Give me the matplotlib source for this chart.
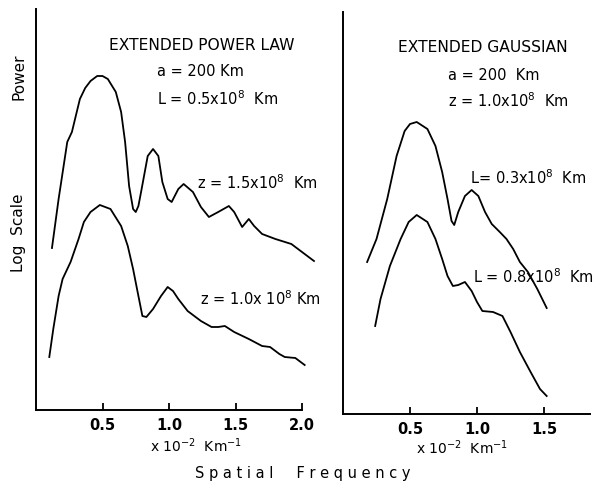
import matplotlib
matplotlib.use("Agg")
import matplotlib.pyplot as plt

plt.rcParams["font.family"] = "DejaVu Sans"
plt.rcParams["mathtext.default"] = "regular"

# Extended power law, z = 1.5e8 km (upper curve)
pl_z15_x = [0.12, 0.17, 0.235, 0.27, 0.33, 0.37, 0.41, 0.46, 0.50, 0.54, 0.60, 0.64,
            0.67, 0.70, 0.73, 0.75, 0.77, 0.79, 0.84, 0.88, 0.92, 0.95, 0.99, 1.02,
            1.07, 1.11, 1.18, 1.24, 1.30, 1.37, 1.45, 1.49, 1.55, 1.60, 1.64, 1.70,
            1.80, 1.92, 2.09]
pl_z15_y = [162, 211, 268, 278, 311, 322, 329, 334, 334, 331, 318, 298,
            268, 224, 201, 198, 204, 218, 254, 261, 254, 228, 211, 208,
            221, 226, 218, 203, 193, 198, 204, 198, 183, 191, 184, 176,
            171, 166, 149]

# Extended power law, z = 1.0e8 km (lower curve)
pl_z10_x = [0.10, 0.13, 0.17, 0.20, 0.26, 0.32, 0.36, 0.41, 0.48, 0.56, 0.64, 0.69,
            0.73, 0.77, 0.80, 0.83, 0.88, 0.94, 0.99, 1.03, 1.07, 1.14, 1.24, 1.32,
            1.37, 1.42, 1.49, 1.60, 1.70, 1.76, 1.83, 1.87, 1.95, 2.02]
pl_z10_y = [53, 81, 114, 131, 148, 171, 188, 198, 205, 201, 184, 164,
            141, 114, 94, 93, 101, 114, 123, 119, 111, 99, 89, 83,
            83, 84, 78, 71, 64, 63, 56, 53, 52, 45]

# Extended gaussian, L = 0.3e8 km (upper curve)
ga_l03_x = [0.18, 0.25, 0.33, 0.40, 0.46, 0.50, 0.55, 0.63, 0.69, 0.74, 0.78, 0.81,
            0.83, 0.86, 0.91, 0.96, 1.01, 1.06, 1.11, 1.17, 1.22, 1.27, 1.32, 1.38,
            1.45, 1.52]
ga_l03_y = [152, 175, 215, 258, 283, 290, 292, 285, 268, 242, 215, 193,
            189, 202, 218, 224, 218, 202, 190, 182, 175, 165, 152, 142,
            125, 106]

# Extended gaussian, L = 0.8e8 km (lower curve)
ga_l08_x = [0.24, 0.28, 0.35, 0.43, 0.49, 0.55, 0.63, 0.69, 0.74, 0.78, 0.82, 0.86,
            0.91, 0.96, 1.00, 1.04, 1.12, 1.19, 1.25, 1.32, 1.40, 1.47, 1.52]
ga_l08_y = [88, 115, 148, 175, 192, 199, 192, 175, 155, 138, 128, 129,
            132, 123, 112, 103, 102, 98, 82, 62, 42, 25, 18]

left_ticks = [0.5, 1.0, 1.5, 2.0]
right_ticks = [0.5, 1.0, 1.5]

W, H = 597, 485
fig = plt.figure(figsize=(W / 100, H / 100), dpi=100)


def px(x, y):
    # pixel position (from top-left) to figure fraction
    return x / W, 1 - y / H


def style_axis(ax, ticks, xmax_spine):
    for s in ["top", "right"]:
        ax.spines[s].set_visible(False)
    for s in ["left", "bottom"]:
        ax.spines[s].set_linewidth(1.4)
    ax.spines["bottom"].set_bounds(0, xmax_spine)
    ax.set_yticks([])
    ax.set_xticks(ticks)
    ax.set_xticklabels([f"{t:.1f}" for t in ticks], fontsize=10.5, fontweight="bold")
    ax.tick_params(axis="x", direction="in", length=5, width=1.3, pad=5)


ax1 = fig.add_axes([36 / W, 1 - 411 / H, 266 / W, 401 / H])
ax1.plot(pl_z15_x, pl_z15_y, color="black", lw=1.3, clip_on=False)
ax1.plot(pl_z10_x, pl_z10_y, color="black", lw=1.3, clip_on=False)
ax1.set_xlim(0, 2.0)
ax1.set_ylim(0, 401)
style_axis(ax1, left_ticks, 2.0)

ax2 = fig.add_axes([343 / W, 1 - 415 / H, 247 / W, 402 / H])
ax2.plot(ga_l03_x, ga_l03_y, color="black", lw=1.3, clip_on=False)
ax2.plot(ga_l08_x, ga_l08_y, color="black", lw=1.3, clip_on=False)
ax2.set_xlim(0, 247 / 134)
ax2.set_ylim(0, 402)
style_axis(ax2, right_ticks, 247 / 134)

kw = dict(fontsize=10.5, color="black", va="center")

# left panel texts
fig.text(*px(202, 45), "EXTENDED POWER LAW", ha="center", fontsize=11.2, color="black", va="center")
fig.text(*px(157, 72), "a = 200 Km", ha="left", **kw)
fig.text(*px(157, 99), "L = 0.5x10$^{8}$  Km", ha="left", **kw)
fig.text(*px(197, 183), "z = 1.5x10$^{8}$  Km", ha="left", **kw)
fig.text(*px(200, 299), "z = 1.0x 10$^{8}$ Km", ha="left", **kw)

# right panel texts
fig.text(*px(483, 47), "EXTENDED GAUSSIAN", ha="center", fontsize=11.2, color="black", va="center")
fig.text(*px(448, 75), "a = 200  Km", ha="left", **kw)
fig.text(*px(448, 101), "z = 1.0x10$^{8}$  Km", ha="left", **kw)
fig.text(*px(470, 178), "L= 0.3x10$^{8}$  Km", ha="left", **kw)
fig.text(*px(473, 277), "L = 0.8x10$^{8}$  Km", ha="left", **kw)

# axis labels
fig.text(*px(196, 446), "x 10$^{-2}$  Km$^{-1}$", ha="center", fontsize=10, va="center")
fig.text(*px(462, 448), "x 10$^{-2}$  Km$^{-1}$", ha="center", fontsize=10, va="center")
fig.text(*px(303, 474), "S p a t i a l     F r e q u e n c y", ha="center", **kw)
fig.text(*px(19, 77), "Power", rotation=90, ha="center", fontsize=11, va="center")
fig.text(*px(19, 233), "Log  Scale", rotation=90, ha="center", fontsize=11, va="center")

fig.savefig("out.png", dpi=100)
